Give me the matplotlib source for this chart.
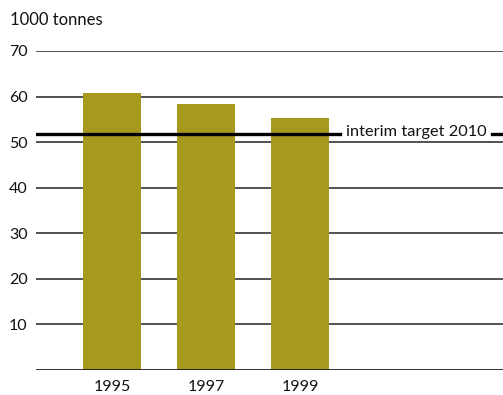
import matplotlib.pyplot as plt

# Emissions, thousand tonnes
years = ["1995", "1997", "1999"]
values = [60.8, 58.4, 55.3]
target = 51.8
target_label = "interim target 2010"
unit_label = "1000 tonnes"
y_ticks = [10, 20, 30, 40, 50, 60, 70]

plt.rcParams["font.family"] = ["Lato", "DejaVu Sans"]

fig = plt.figure(figsize=(5.03, 3.95), dpi=100)
ax = fig.add_axes([36 / 503, 25 / 395, 467 / 503, 319 / 395])

x = range(len(years))
ax.bar(x, values, width=0.62, color="#a7991e", zorder=3)

ax.set_xlim(-0.81, 4.16)
ax.set_ylim(0, 70)

# horizontal gridlines, with a darker baseline
for t in y_ticks:
    ax.axhline(t, color="#222222", linewidth=1.1, zorder=1)
ax.axhline(0, color="#111111", linewidth=1.2, zorder=4)

# target line, broken around its label
ax.axhline(target, xmin=0, xmax=0.651, color="black", linewidth=2.4, zorder=5)
ax.axhline(target, xmin=0.976, xmax=1, color="black", linewidth=2.4, zorder=5)
ax.text(0.664, target + 0.4, target_label, transform=ax.get_yaxis_transform(),
        ha="left", va="center", fontsize=11.8, color="#111111")

ax.set_yticks(y_ticks)
ax.set_yticklabels([str(t) for t in y_ticks])
ax.set_xticks(list(x))
ax.set_xticklabels(years)
ax.tick_params(axis="both", length=0, labelsize=11.5, colors="#111111")
ax.tick_params(axis="y", pad=6)
ax.tick_params(axis="x", pad=7)

for side in ax.spines.values():
    side.set_visible(False)

fig.text(10 / 503, 1 - 20 / 395, unit_label, ha="left", va="center", fontsize=12, color="#111111")

fig.savefig("out.png", dpi=100)
